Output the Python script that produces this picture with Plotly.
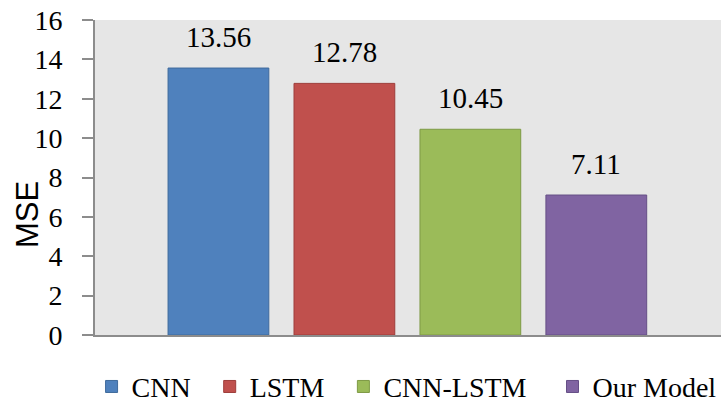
import plotly.graph_objects as go

# MSE comparison of the four models
models = ["CNN", "LSTM", "CNN-LSTM", "Our Model"]
mse = [13.56, 12.78, 10.45, 7.11]
colors = ["#4F81BD", "#C0504D", "#9BBB59", "#8064A2"]
edges = ["#3F6A9C", "#9E3D3A", "#7E9A45", "#654F86"]
y_ticks = [0, 2, 4, 6, 8, 10, 12, 14, 16]
# extra room after each legend entry (non-breaking spaces)
legend_pad = [2, 2, 3, 0]

serif = "Liberation Serif"
sans = "Liberation Sans"

fig = go.Figure()
for name, val, col, edge, pad in zip(models, mse, colors, edges, legend_pad):
    fig.add_trace(go.Bar(
        x=[name], y=[val], name=name + "\u00a0" * pad, width=0.8,
        marker=dict(color=col, line=dict(color=edge, width=1)),
        hoverinfo="skip",
    ))
    fig.add_annotation(
        x=name, y=val, text=f"{val:.2f}", showarrow=False,
        yanchor="bottom", yshift=13,
        font=dict(family=serif, size=29, color="#000000"),
    )

# y-axis title drawn as rotated text beside the tick labels
fig.add_annotation(
    text="MSE", xref="paper", yref="paper", x=-0.107, y=0.381,
    xanchor="center", yanchor="middle", textangle=-90, showarrow=False,
    font=dict(family=sans, size=31, color="#000000"),
)

fig.update_layout(
    width=721, height=405,
    margin=dict(l=95, r=0, t=20, b=70, autoexpand=False),
    paper_bgcolor="#FFFFFF",
    plot_bgcolor="#E6E6E6",
    barmode="overlay",
    showlegend=True,
    legend=dict(
        orientation="h",
        xref="container", x=0.127, xanchor="left",
        yref="container", y=0.045, yanchor="middle",
        font=dict(family=serif, size=28, color="#000000"),
        bgcolor="rgba(0,0,0,0)",
    ),
    xaxis=dict(
        type="category", range=[-0.98, 3.99],
        showticklabels=False, ticks="", showgrid=False, zeroline=False,
        showline=True, linecolor="#8C8C8C", linewidth=2,
    ),
    yaxis=dict(
        range=[0, 16], tickvals=y_ticks, ticktext=[str(v) for v in y_ticks],
        ticks="outside", ticklen=11, tickcolor="#8C8C8C", tickwidth=1.5,
        ticklabelstandoff=14,
        showline=True, linecolor="#8C8C8C", linewidth=2,
        showgrid=False, zeroline=False,
        tickfont=dict(family=serif, size=28, color="#000000"),
    ),
)

fig.write_html("out.html")
